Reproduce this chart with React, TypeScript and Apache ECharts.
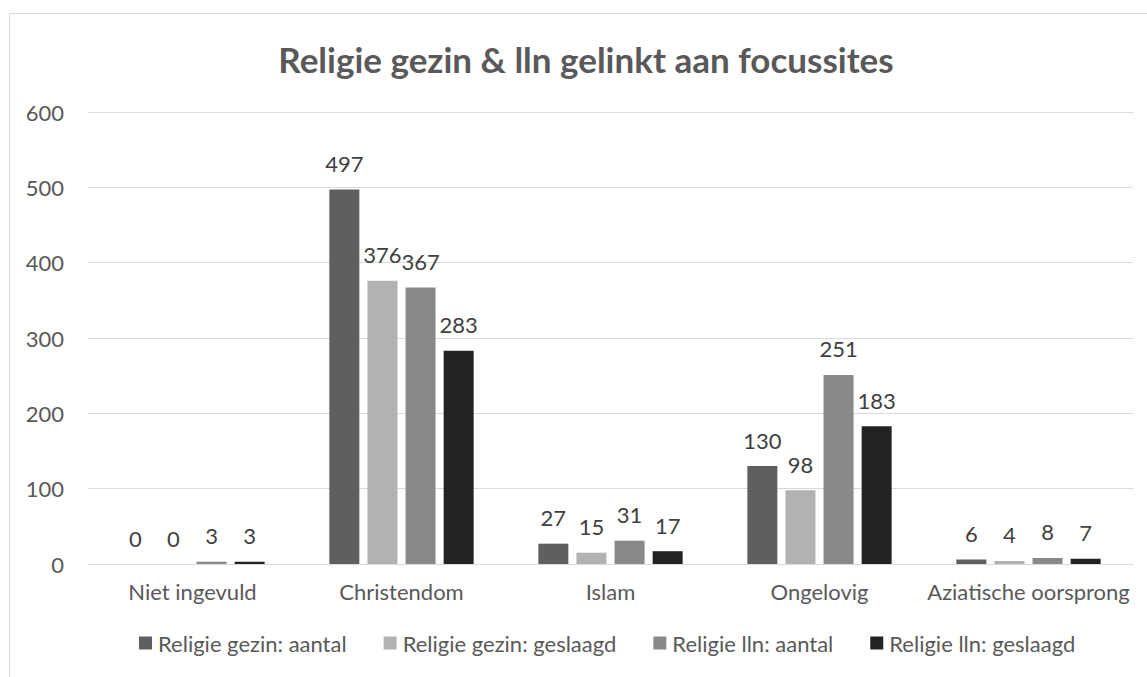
import React, { useEffect, useRef } from "react";
import * as echarts from "echarts";

const categories = ["Niet ingevuld", "Christendom", "Islam", "Ongelovig", "Aziatische oorsprong"];
const seriesNames = [
  "Religie gezin: aantal",
  "Religie gezin: geslaagd",
  "Religie lln: aantal",
  "Religie lln: geslaagd",
];
const gezinAantal = [0, 497, 27, 130, 6];
const gezinGeslaagd = [0, 376, 15, 98, 4];
const llnAantal = [3, 367, 31, 251, 8];
const llnGeslaagd = [3, 283, 17, 183, 7];
const yTicks = { min: 0, max: 600, interval: 100 };
const colors = ["#5f5f5f", "#b2b2b2", "#898989", "#232323"];

const FONT = "Lato, 'Open Sans', sans-serif";

export default function App() {
  const ref = useRef<HTMLDivElement>(null);
  useEffect(() => {
    if (!ref.current) return;
    const chart = echarts.init(ref.current, undefined, { renderer: "svg" });
    const data = [gezinAantal, gezinGeslaagd, llnAantal, llnGeslaagd];
    chart.setOption({
      animation: false,
      backgroundColor: "#ffffff",
      textStyle: { fontFamily: FONT },
      title: {
        text: "Religie gezin & lln gelinkt aan focussites",
        left: 581,
        textAlign: "center",
        top: 36,
        textStyle: { fontFamily: FONT, fontSize: 35, fontWeight: "bold", color: "#595959" },
      },
      graphic: [
        {
          type: "rect",
          shape: { x: 9.5, y: 13.5, width: 1200, height: 700 },
          style: { fill: "none", stroke: "#d9d9d9", lineWidth: 1 },
          silent: true,
        },
      ],
      legend: {
        bottom: 18,
        left: 134,
        itemWidth: 13,
        itemHeight: 13,
        itemGap: 37,
        icon: "rect",
        textStyle: { fontFamily: FONT, fontSize: 22, color: "#595959", padding: [0, 0, 0, 1] },
        data: seriesNames,
      },
      grid: { left: 88, right: 14, top: 112, bottom: 113, containLabel: false },
      xAxis: {
        type: "category",
        data: categories,
        axisLine: { lineStyle: { color: "#d9d9d9", width: 1 } },
        axisTick: { show: false },
        axisLabel: { interval: 0, fontFamily: FONT, fontSize: 22, color: "#595959", margin: 16 },
      },
      yAxis: {
        type: "value",
        min: yTicks.min,
        max: yTicks.max,
        interval: yTicks.interval,
        axisLine: { show: false },
        axisTick: { show: false },
        splitLine: { lineStyle: { color: "#d9d9d9", width: 1 } },
        axisLabel: { fontFamily: FONT, fontSize: 22, color: "#595959", margin: 24 },
      },
      series: seriesNames.map((name, i) => ({
        name,
        type: "bar",
        data: data[i],
        barWidth: 30,
        barGap: "27%",
        itemStyle: { color: colors[i] },
        label: {
          show: true,
          position: "top",
          distance: 15,
          fontFamily: FONT,
          fontSize: 22,
          color: "#404040",
        },
      })),
    });
    return () => chart.dispose();
  }, []);
  return (
    <div
      ref={ref}
      style={{ position: "fixed", left: 0, top: 0, width: 1147, height: 677 }}
    />
  );
}
